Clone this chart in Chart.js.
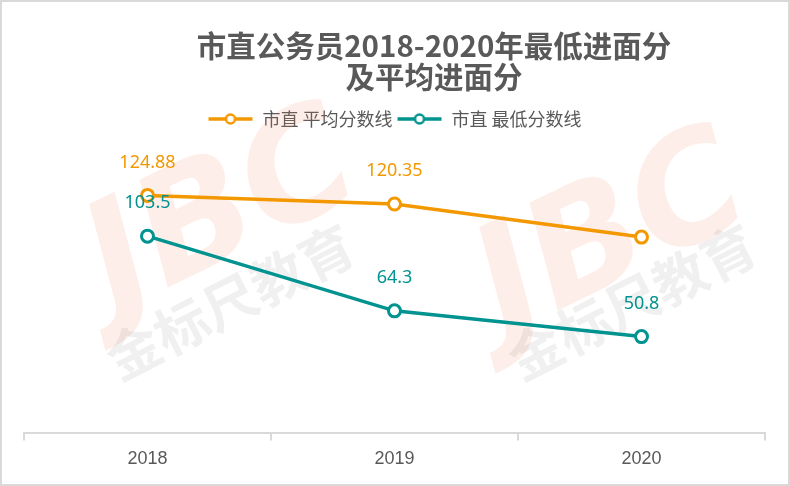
<!DOCTYPE html>
<html>
<head>
<meta charset="utf-8">
<script src="https://cdn.jsdelivr.net/npm/chart.js@4"></script>
<style>
  html, body { margin: 0; padding: 0; background: #fff; }
  #wrap {
    position: relative; width: 790px; height: 486px;
    box-sizing: border-box; border: 2px solid #d9d9d9; background: #fff;
  }
  #title {
    position: absolute; left: 0; top: 27px; width: 864px; text-align: center;
    font: bold 29.5px "Noto Sans CJK SC", sans-serif; line-height: 31px; color: #595959;
    z-index: 2; pointer-events: none;
  }
  canvas { position: absolute; left: 0; top: 0; }
</style>
</head>
<body>
<div id="wrap">
  <div id="title">市直公务员2018-2020年最低进面分<br>及平均进面分</div>
  <canvas id="chart" width="786" height="482"></canvas>
</div>
<script>
const YEARS = ["2018", "2019", "2020"];
const AVG_SCORE = [124.88, 120.35, 103.0];   // 市直 平均分数线
const MIN_SCORE = [103.5, 64.3, 50.8];       // 市直 最低分数线
const AVG_LABEL_SHOWN = [true, true, false]; // reference has no label on the last orange point

const ORANGE = "#f39800";
const TEAL = "#00938f";
const TEXT = "#595959";

// small line + ring marker for the legend
function legendMarker(color) {
  const c = document.createElement("canvas");
  c.width = 46; c.height = 14;
  const g = c.getContext("2d");
  g.strokeStyle = color;
  g.lineWidth = 3.5;
  g.beginPath(); g.moveTo(1, 7); g.lineTo(45, 7); g.stroke();
  g.fillStyle = "#fff";
  g.lineWidth = 2.5;
  g.beginPath(); g.arc(23, 7, 4.5, 0, Math.PI * 2); g.fill(); g.stroke();
  return c;
}

const watermark = {
  id: "watermark",
  beforeDatasetsDraw(chart) {
    const ctx = chart.ctx;
    const spots = [[222, 215, 228, 300], [612, 238, 630, 300]];
    ctx.save();
    spots.forEach(([lx, ly, tx, ty]) => {
      ctx.save();
      ctx.translate(lx, ly);
      ctx.rotate(-0.45);
      ctx.font = "italic bold 150px 'DejaVu Sans'";
      ctx.fillStyle = "rgba(245,125,85,0.13)";
      ctx.textAlign = "center";
      ctx.textBaseline = "middle";
      ctx.fillText("JBC", 0, 0);
      ctx.restore();
      ctx.save();
      ctx.translate(tx, ty);
      ctx.rotate(-0.47);
      ctx.font = "bold 54px 'Noto Sans CJK SC'";
      ctx.fillStyle = "rgba(0,0,0,0.06)";
      ctx.textAlign = "center";
      ctx.textBaseline = "middle";
      ctx.fillText("金标尺教育", 0, 0);
      ctx.restore();
    });
    ctx.restore();
  },
};

const valueLabels = {
  id: "valueLabels",
  afterDatasetsDraw(chart) {
    const ctx = chart.ctx;
    ctx.save();
    ctx.font = "18px 'Noto Sans', sans-serif";
    ctx.textAlign = "center";
    ctx.textBaseline = "middle";
    chart.data.datasets.forEach((ds, i) => {
      chart.getDatasetMeta(i).data.forEach((pt, j) => {
        if (ds.showLabel && !ds.showLabel[j]) return;
        ctx.fillStyle = ds.borderColor;
        ctx.fillText(String(ds.data[j]), pt.x, pt.y - 33);
      });
    });
    ctx.restore();
  },
};

function lineSet(label, data, color) {
  return {
    label, data,
    borderColor: color,
    backgroundColor: "#fff",
    borderWidth: 3.5,
    pointRadius: 6,
    pointHoverRadius: 6,
    pointBorderWidth: 3,
    pointBackgroundColor: "#fff",
    pointBorderColor: color,
    tension: 0,
  };
}

const avgSet = lineSet("市直 平均分数线", AVG_SCORE, ORANGE);
avgSet.showLabel = AVG_LABEL_SHOWN;
const minSet = lineSet("市直 最低分数线", MIN_SCORE, TEAL);

new Chart(document.getElementById("chart"), {
  type: "line",
  data: { labels: YEARS, datasets: [avgSet, minSet] },
  options: {
    responsive: false,
    animation: false,
    layout: { padding: { top: 104, left: 22, right: 23, bottom: 6 } },
    plugins: {
      title: { display: false },
      tooltip: { enabled: false },
      legend: {
        position: "top",
        labels: {
          color: TEXT,
          font: { family: "'Noto Sans CJK SC'", size: 18 },
          usePointStyle: true,
          pointStyleWidth: 46,
          padding: 4,
          generateLabels: chart => chart.data.datasets.map((ds, i) => ({
            text: ds.label,
            fontColor: TEXT,
            pointStyle: legendMarker(ds.borderColor),
            datasetIndex: i,
            hidden: false,
            lineWidth: 0,
          })),
        },
      },
    },
    scales: {
      x: {
        offset: true,
        grid: {
          display: true, offset: true, drawOnChartArea: false, drawTicks: true,
          tickLength: 7, color: "#d9d9d9", lineWidth: 2,
        },
        border: { display: true, color: "#d9d9d9", width: 2 },
        ticks: {
          color: TEXT, padding: 8,
          font: { family: "'Liberation Sans', Arial, sans-serif", size: 18 },
        },
      },
      y: { display: false, min: 0, max: 155 },
    },
  },
  plugins: [watermark, valueLabels],
});
</script>
</body>
</html>
